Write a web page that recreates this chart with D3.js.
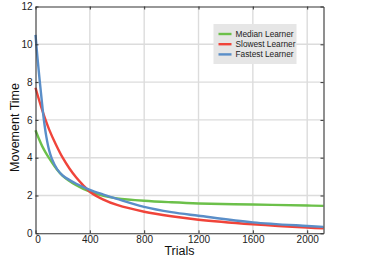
<!DOCTYPE html>
<html>
<head>
<meta charset="utf-8">
<script src="https://cdn.jsdelivr.net/npm/d3@7"></script>
<style>
  body { margin: 0; background: #fff; }
  svg { display: block; font-family: "Liberation Sans", Arial, sans-serif; }
</style>
</head>
<body>
<div class="chart"></div>
<script>
// Tick labels
const xTicks = [0, 400, 800, 1200, 1600, 2000]
const yTicks = [0, 2, 4, 6, 8, 10, 12]

// Series (trial, movement time)
const medianTrials = [0, 25, 50, 75, 100, 150, 200, 300, 400, 500, 600, 800, 1000, 1200, 1600, 2000, 2120]
const medianTimes = [5.45, 5.0, 4.6, 4.27, 3.98, 3.45, 3.04, 2.54, 2.2, 1.98, 1.85, 1.72, 1.64, 1.58, 1.52, 1.47, 1.45]

const slowestTrials = [0, 50, 100, 150, 200, 250, 300, 350, 400, 500, 600, 800, 1000, 1200, 1600, 2000, 2120]
const slowestTimes = [7.7, 6.5, 5.5, 4.7, 4.0, 3.43, 2.95, 2.55, 2.2, 1.78, 1.5, 1.14, 0.9, 0.72, 0.48, 0.3, 0.26]

const fastestTrials = [0, 15, 30, 45, 60, 80, 100, 120, 160, 200, 300, 400, 500, 600, 800, 1000, 1200, 1600, 2000, 2120]
const fastestTimes = [10.5, 9.25, 8.15, 7.1, 6.1, 5.1, 4.4, 3.95, 3.38, 3.06, 2.62, 2.3, 2.05, 1.82, 1.4, 1.12, 0.93, 0.58, 0.39, 0.34]

const seriesNames = ["Median Learner", "Slowest Learner", "Fastest Learner"]
const seriesColors = ["#6cc04a", "#f0443a", "#5a8ec8"]

const width = 384
const height = 260
const margin = {top: 6.5, right: 60.5, bottom: 26.7, left: 35.5}

const svg = d3.select(".chart").append("svg")
    .attr("width", width)
    .attr("height", height)

const x = d3.scaleLinear()
    .domain([0, 2120])
    .range([margin.left, width - margin.right])
const y = d3.scaleLinear()
    .domain([0, 12])
    .range([height - margin.bottom, margin.top])

// grid
svg.append("g")
    .attr("stroke", "#dcdcdc")
    .attr("stroke-width", 1.4)
    .selectAll()
    .data(xTicks.slice(1))
    .join("line")
      .attr("x1", d => x(d)).attr("x2", d => x(d))
      .attr("y1", y(0)).attr("y2", y(12))
svg.append("g")
    .attr("stroke", "#dcdcdc")
    .attr("stroke-width", 1.4)
    .selectAll()
    .data(yTicks.slice(1, -1))
    .join("line")
      .attr("x1", x(0)).attr("x2", x(2120))
      .attr("y1", d => y(d)).attr("y2", d => y(d))

// curves
const series = [
    medianTrials.map((t, i) => [t, medianTimes[i]]),
    slowestTrials.map((t, i) => [t, slowestTimes[i]]),
    fastestTrials.map((t, i) => [t, fastestTimes[i]])
]
const line = d3.line()
    .x(d => x(d[0]))
    .y(d => y(d[1]))
    .curve(d3.curveCatmullRom.alpha(0.5))

svg.append("g")
    .attr("fill", "none")
    .attr("stroke-width", 2.4)
    .selectAll()
    .data(series)
    .join("path")
      .attr("stroke", (d, i) => seriesColors[i])
      .attr("d", line)

// axes: ticks inward on all four sides
const fmt = d3.format("d")
const axisBottom = svg.append("g")
    .attr("transform", `translate(0,${y(0)})`)
    .call(d3.axisBottom(x).tickValues(xTicks).tickFormat(fmt).tickSizeInner(-3).tickSizeOuter(0).tickPadding(3))
const axisLeft = svg.append("g")
    .attr("transform", `translate(${x(0)},0)`)
    .call(d3.axisLeft(y).tickValues(yTicks).tickFormat(fmt).tickSizeInner(-3).tickSizeOuter(0).tickPadding(3))
const axisTop = svg.append("g")
    .attr("transform", `translate(0,${y(12)})`)
    .call(d3.axisTop(x).tickValues(xTicks).tickSizeInner(-3).tickSizeOuter(0).tickFormat(""))
const axisRight = svg.append("g")
    .attr("transform", `translate(${x(2120)},0)`)
    .call(d3.axisRight(y).tickValues(yTicks).tickSizeInner(-3).tickSizeOuter(0).tickFormat(""))

;[axisBottom, axisLeft, axisTop, axisRight].forEach(a => {
    a.select(".domain").attr("stroke", "#333").attr("stroke-width", 1.1)
    a.selectAll(".tick line").attr("stroke", "#333")
    a.selectAll(".tick text")
        .attr("fill", "#222")
        .attr("font-size", "10px")
        .attr("font-family", "Liberation Sans, Arial, sans-serif")
})
axisBottom.selectAll(".tick text").attr("dx", d => d === 0 ? 2 : 0)

// axis titles
svg.append("text")
    .attr("x", (x(0) + x(2120)) / 2)
    .attr("y", 255)
    .attr("text-anchor", "middle")
    .attr("font-size", "12.5px")
    .attr("fill", "#111")
    .text("Trials")
svg.append("text")
    .attr("transform", `translate(19,127.5) rotate(-90)`)
    .attr("text-anchor", "middle")
    .attr("font-size", "12.5px")
    .attr("fill", "#111")
    .text("Movement Time")

// legend
const legend = svg.append("g")
legend.append("rect")
    .attr("x", 213.5).attr("y", 24)
    .attr("width", 83).attr("height", 40)
    .attr("fill", "#e6e6e6")
const item = legend.selectAll("g")
    .data(seriesNames)
    .join("g")
      .attr("transform", (d, i) => `translate(0,${34 + i * 10.2})`)
item.append("line")
    .attr("x1", 218.5).attr("x2", 231.5)
    .attr("stroke", (d, i) => seriesColors[i])
    .attr("stroke-width", 2.4)
item.append("text")
    .attr("x", 235.5)
    .attr("dy", "0.35em")
    .attr("font-size", "8.3px")
    .attr("fill", "#222")
    .text(d => d)
</script>
</body>
</html>
